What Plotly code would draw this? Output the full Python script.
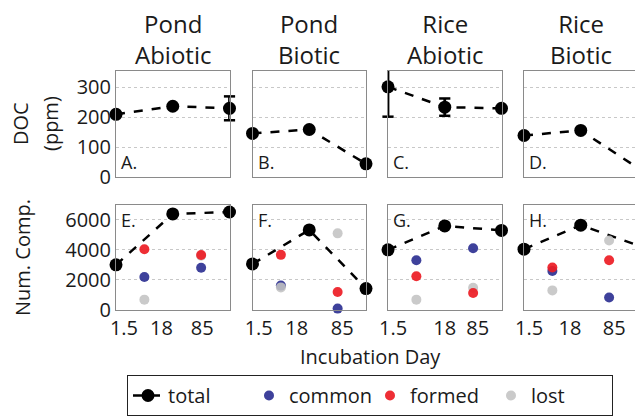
import plotly.graph_objects as go

# ---------------- data ----------------
panel_titles = ["Pond<br>Abiotic", "Pond<br>Biotic", "Rice<br>Abiotic", "Rice<br>Biotic"]
top_letters = ["A.", "B.", "C.", "D."]
bottom_letters = ["E.", "F.", "G.", "H."]
day_labels = ["1.5", "18", "85"]
x_total = [1, 2, 3]          # sampling points (days 1.5, 18, 85)
x_change = [1.5, 2.5]        # intervals between sampling points

# DOC (ppm)
doc_pond_abiotic = [210, 237, 230]
doc_pond_biotic = [146, 159, 44]
doc_rice_abiotic = [302, 234, 230]
doc_rice_biotic = [139, 156, 31]
doc_err_pond_abiotic = [0, 0, 40]
doc_err_pond_biotic = [0, 0, 0]
doc_err_rice_abiotic = [100, 29, 0]
doc_err_rice_biotic = [0, 0, 0]

# number of compounds
total_pond_abiotic = [2990, 6400, 6530]
total_pond_biotic = [3050, 5330, 1400]
total_rice_abiotic = [4000, 5600, 5300]
total_rice_biotic = [4040, 5650, 4300]

common_pond_abiotic = [2180, 2800]
common_pond_biotic = [1600, 60]
common_rice_abiotic = [3300, 4100]
common_rice_biotic = [2580, 800]

formed_pond_abiotic = [4040, 3650]
formed_pond_biotic = [3660, 1170]
formed_rice_abiotic = [2230, 1100]
formed_rice_biotic = [2810, 3300]

lost_pond_abiotic = [660, 3600]
lost_pond_biotic = [1480, 5100]
lost_rice_abiotic = [660, 1450]
lost_rice_biotic = [1280, 4620]

doc_sets = [doc_pond_abiotic, doc_pond_biotic, doc_rice_abiotic, doc_rice_biotic]
doc_errs = [doc_err_pond_abiotic, doc_err_pond_biotic, doc_err_rice_abiotic, doc_err_rice_biotic]
total_sets = [total_pond_abiotic, total_pond_biotic, total_rice_abiotic, total_rice_biotic]
common_sets = [common_pond_abiotic, common_pond_biotic, common_rice_abiotic, common_rice_biotic]
formed_sets = [formed_pond_abiotic, formed_pond_biotic, formed_rice_abiotic, formed_rice_biotic]
lost_sets = [lost_pond_abiotic, lost_pond_biotic, lost_rice_abiotic, lost_rice_biotic]

# ---------------- layout helpers ----------------
W, H = 635, 418
def fx(p):
    return min(max(p / W, 0), 1)
def fy(p):
    return min(max(1 - p / H, 0), 1)

col_left = [116, 252.5, 388, 524]
col_w = 113.5
row_top = [71, 205]
row_bot = [177, 309.5]
tick_pos = [[1.14, 1.80, 2.52], [1.11, 1.78, 2.58], [1.09, 2.0, 2.58], [1.09, 1.81, 2.59]]
DOC_RANGE = [0, 355]
NUM_RANGE = [0, 7000]

FONT = "Open Sans"
BLUE = "#2e3192"
RED = "#ed1c24"
GREY = "#c3c3c3"

fig = go.Figure()
layout = dict(
    width=W, height=H, margin=dict(l=0, r=0, t=0, b=0, autoexpand=False),
    paper_bgcolor="white", plot_bgcolor="white",
    font=dict(family=FONT, size=20, color="#1a1a1a"),
    showlegend=True,
)
annotations = []

for r in range(2):
    for c in range(4):
        n = r * 4 + c + 1
        xa = "x" if n == 1 else f"x{n}"
        ya = "y" if n == 1 else f"y{n}"
        right_px = col_left[c] + col_w
        clipped = right_px > W
        x_end = 3 if not clipped else 1 + 2 * (W - col_left[c]) / col_w
        layout[f"xaxis{n}"] = dict(
            domain=[fx(col_left[c]), fx(right_px)],
            anchor=ya, range=[1, x_end],
            tickvals=tick_pos[c], ticktext=day_labels,
            showticklabels=(r == 1), ticks="",
            showgrid=False, zeroline=False,
            showline=True, mirror=True, linecolor="#8a8a8a", linewidth=1,
            tickfont=dict(size=20), fixedrange=True,
        )
        if r == 0:
            yr, yt = DOC_RANGE, [0, 100, 200, 300]
        else:
            yr, yt = NUM_RANGE, [0, 2000, 4000, 6000]
        layout[f"yaxis{n}"] = dict(
            domain=[fy(row_bot[r]), fy(row_top[r])],
            anchor=xa, range=yr, tickvals=yt,
            showticklabels=(c == 0), ticks="",
            showgrid=True, gridcolor="#c8c8c8", griddash="dot", gridwidth=1,
            zeroline=False,
            showline=True, mirror=(not clipped), linecolor="#8a8a8a", linewidth=1,
            tickfont=dict(size=20), fixedrange=True,
        )

        if r == 0:
            vals, errs = doc_sets[c], doc_errs[c]
            # error bars: vertical stems (clipped to axes) + caps (markers, not clipped)
            stem_x, stem_y, cap_x, cap_y = [], [], [], []
            for xv, v, e in zip(x_total, vals, errs):
                if e <= 0:
                    continue
                stem_x += [xv, xv, None]
                stem_y += [v - e, v + e, None]
                cap_x.append(xv)
                cap_y.append(v - e)
                if v + e <= yr[1]:
                    cap_x.append(xv)
                    cap_y.append(v + e)
            if stem_x:
                fig.add_trace(go.Scatter(
                    x=stem_x, y=stem_y, xaxis=xa, yaxis=ya, mode="lines",
                    line=dict(color="black", width=2.8),
                    showlegend=False, hoverinfo="skip"))
                fig.add_trace(go.Scatter(
                    x=cap_x, y=cap_y, xaxis=xa, yaxis=ya, mode="markers",
                    marker=dict(symbol="line-ew", size=8, color="black",
                                line=dict(color="black", width=2.5)),
                    showlegend=False, cliponaxis=False, hoverinfo="skip"))
            fig.add_trace(go.Scatter(
                x=x_total, y=vals, xaxis=xa, yaxis=ya, mode="lines+markers",
                line=dict(color="black", width=2.5, dash="dash"),
                marker=dict(size=13, color="black"),
                showlegend=False, cliponaxis=False, name="total"))
            annotations.append(dict(
                x=fx(col_left[c] + 3), y=fy(row_bot[r] - 1), xref="paper", yref="paper",
                xanchor="left", yanchor="bottom", text=top_letters[c], showarrow=False,
                font=dict(size=18)))
            annotations.append(dict(
                x=fx(col_left[c] + col_w / 2), y=fy(73), xref="paper", yref="paper",
                xanchor="center", yanchor="bottom", text=panel_titles[c], showarrow=False,
                font=dict(size=24)))
        else:
            fig.add_trace(go.Scatter(
                x=x_total, y=total_sets[c], xaxis=xa, yaxis=ya, mode="lines+markers",
                line=dict(color="black", width=2.5, dash="dash"),
                marker=dict(size=13, color="black"),
                name="total", legendrank=1,
                showlegend=(c == 0), cliponaxis=False))
            fig.add_trace(go.Scatter(
                x=x_change, y=common_sets[c], xaxis=xa, yaxis=ya, mode="markers",
                marker=dict(size=10, color=BLUE, opacity=0.92),
                name="common", legendrank=2,
                showlegend=(c == 0), cliponaxis=False))
            fig.add_trace(go.Scatter(
                x=x_change, y=lost_sets[c], xaxis=xa, yaxis=ya, mode="markers",
                marker=dict(size=10, color=GREY, opacity=0.88),
                name="lost", legendrank=4,
                showlegend=(c == 0), cliponaxis=False))
            fig.add_trace(go.Scatter(
                x=x_change, y=formed_sets[c], xaxis=xa, yaxis=ya, mode="markers",
                marker=dict(size=10, color=RED, opacity=0.92),
                name="formed", legendrank=3,
                showlegend=(c == 0), cliponaxis=False))
            annotations.append(dict(
                x=fx(col_left[c] + 3), y=fy(row_top[r] + 1), xref="paper", yref="paper",
                xanchor="left", yanchor="top", text=bottom_letters[c], showarrow=False,
                font=dict(size=18)))

# axis titles
annotations.append(dict(x=fx(20), y=fy(124), xref="paper", yref="paper", text="DOC",
                        xanchor="center", yanchor="middle",
                        textangle=-90, showarrow=False, font=dict(size=20)))
annotations.append(dict(x=fx(50), y=fy(124), xref="paper", yref="paper", text="(ppm)",
                        xanchor="center", yanchor="middle",
                        textangle=-90, showarrow=False, font=dict(size=20)))
annotations.append(dict(x=fx(22), y=fy(258), xref="paper", yref="paper", text="Num. Comp.",
                        xanchor="center", yanchor="middle",
                        textangle=-90, showarrow=False, font=dict(size=20)))
annotations.append(dict(x=fx(370), y=fy(356), xref="paper", yref="paper", text="Incubation Day",
                        xanchor="center", yanchor="middle",
                        showarrow=False, font=dict(size=20)))

layout["annotations"] = annotations
layout["legend"] = dict(
    orientation="h", x=fx(127), y=fy(375), xanchor="left", yanchor="top",
    bordercolor="#222222", borderwidth=1, bgcolor="white",
    font=dict(size=20), itemwidth=30, entrywidth=76, traceorder="normal",
)
fig.update_layout(**layout)
fig.write_html("out.html")
